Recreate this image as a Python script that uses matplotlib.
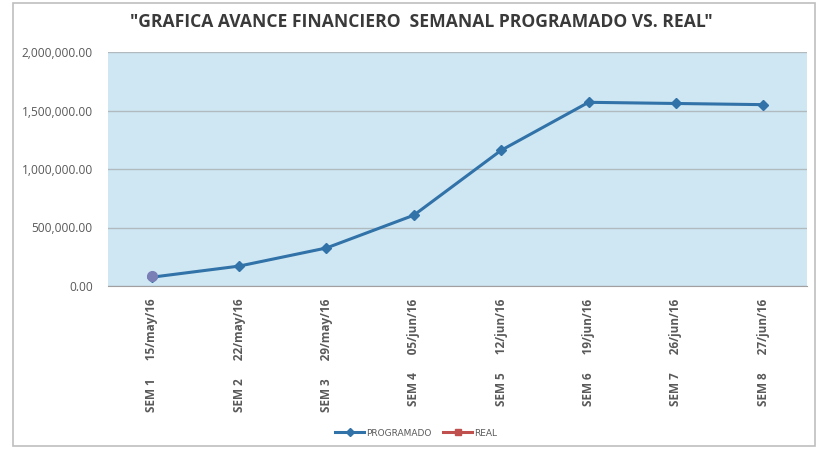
import matplotlib
matplotlib.use("Agg")
import matplotlib.pyplot as plt
from matplotlib.patches import Rectangle
from matplotlib.lines import Line2D
from matplotlib.ticker import FuncFormatter

semanas = ["SEM 1", "SEM 2", "SEM 3", "SEM 4", "SEM 5", "SEM 6", "SEM 7", "SEM 8"]
fechas = ["15/may/16", "22/may/16", "29/may/16", "05/jun/16", "12/jun/16", "19/jun/16", "26/jun/16", "27/jun/16"]
programado = [75000, 170000, 325000, 605000, 1160000, 1570000, 1560000, 1550000]
real = [85000]
y_ticks = [0, 500000, 1000000, 1500000, 2000000]

W, H = 831, 454
fig = plt.figure(figsize=(W / 100, H / 100), dpi=100)
fig.patch.set_facecolor("white")
fig.add_artist(Rectangle((13 / W, 1 - 446 / H), 802 / W, 443 / H, transform=fig.transFigure,
                         fill=False, edgecolor="#bfbfbf", linewidth=1.2))

ax = fig.add_axes([108 / W, 1 - 286 / H, 699 / W, 234 / H])
ax.set_facecolor("#cfe7f3")
x = list(range(len(semanas)))
ax.plot(x, programado, color="#3172a8", linewidth=2.2, marker="D", markersize=5,
        markerfacecolor="#3172a8", markeredgecolor="#3172a8", zorder=3)
ax.plot(x[:len(real)], real, color="#7a7fb6", linestyle="none", marker="o", markersize=7, zorder=4)

ax.set_xlim(-0.5, len(semanas) - 0.5)
ax.set_ylim(0, 2000000)
ax.set_yticks(y_ticks)
ax.yaxis.set_major_formatter(FuncFormatter(lambda v, p: f"{v:,.2f}"))
ax.grid(axis="y", color="#b0babf", linewidth=1.0)
ax.set_axisbelow(True)
for s in ["top", "right", "left"]:
    ax.spines[s].set_visible(False)
ax.spines["bottom"].set_color("#a0a0a0")
ax.tick_params(axis="y", length=0, labelsize=8.6, labelcolor="#595959", pad=11)
ax.tick_params(axis="x", length=0, pad=9)
ax.set_xticks(x)
ax.set_xticklabels([f"{s}      {f}" for s, f in zip(semanas, fechas)], rotation=90,
                   fontsize=8.5, color="#595959", fontweight="bold", fontfamily="Open Sans")
for lab in ax.get_yticklabels():
    lab.set_fontfamily("Open Sans")

fig.text(421 / W, 1 - 22 / H, "\"GRAFICA AVANCE FINANCIERO  SEMANAL PROGRAMADO VS. REAL\"",
         ha="center", va="center", fontsize=12.6, fontweight="bold", color="#3a3a3a",
         fontfamily="Open Sans")

handles = [Line2D([], [], color="#3172a8", linewidth=2.2, marker="D", markersize=4),
           Line2D([], [], color="#c0504d", linewidth=2.2, marker="s", markersize=4)]
fig.legend(handles, ["PROGRAMADO", "REAL"], loc="center", bbox_to_anchor=(416 / W, 1 - 433 / H),
           ncol=2, frameon=False, fontsize=6.5, handlelength=3.2, columnspacing=1.3,
           handletextpad=0.2, labelcolor="#595959")

fig.savefig("out.png", dpi=100)
